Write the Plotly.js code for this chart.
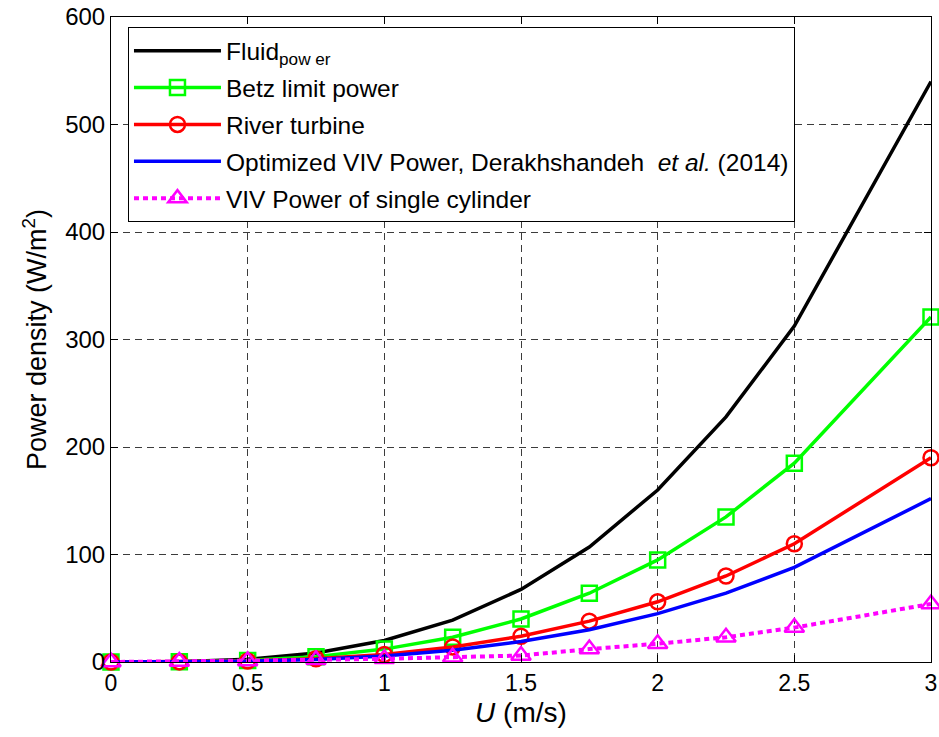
<!DOCTYPE html>
<html>
<head>
<meta charset="utf-8">
<script src="https://cdn.plot.ly/plotly-3.0.1.min.js"></script>
<style>html,body{margin:0;padding:0;background:#fff;}#chart{width:939px;height:737px;}</style>
</head>
<body>
<div id="chart"></div>
<script>
// Flow speed U (m/s)
const speeds = [0, 0.25, 0.5, 0.75, 1, 1.25, 1.5, 1.75, 2, 2.25, 2.5, 3];
// Power density (W/m^2)
const fluidPower   = [0, 0.3, 2.5, 8.4, 20, 39, 67.5, 107, 160, 228, 312.5, 540];
const betzPower    = [0, 0.2, 1.5, 5, 12, 23, 40, 64, 95, 135, 185, 321];
const riverTurbine = [0, 0.1, 0.9, 3, 7, 14, 24, 38, 56, 80, 110, 190];
const optimizedVIV = [0, 0.1, 0.7, 2.4, 5.6, 11, 19, 30, 45, 64, 88, 152];
const singleCylVIV = [0, 0.5, 1, 2, 3, 4.5, 6, 12, 17, 23, 32, 54];

const seriesNames = [
  "Fluid<sub>pow er</sub>",
  "Betz limit power",
  "River turbine",
  "Optimized VIV Power, Derakhshandeh  <i>et al.</i> (2014)",
  "VIV Power of single cylinder"
];

const traces = [
  {x: speeds, y: fluidPower, name: seriesNames[0], mode: "lines", cliponaxis: false,
   line: {color: "#000000", width: 3.5}, legendgroup: "a"},
  {x: speeds, y: betzPower, name: seriesNames[1], mode: "lines+markers", cliponaxis: false,
   line: {color: "#00ff00", width: 3.5},
   marker: {symbol: "square-open", size: 15, color: "#00ff00", line: {width: 2.5, color: "#00ff00"}}, legendgroup: "b"},
  {x: speeds, y: riverTurbine, name: seriesNames[2], mode: "lines+markers", cliponaxis: false,
   line: {color: "#ff0000", width: 3.5},
   marker: {symbol: "circle-open", size: 15, color: "#ff0000", line: {width: 2.5, color: "#ff0000"}}, legendgroup: "c"},
  {x: speeds, y: optimizedVIV, name: seriesNames[3], mode: "lines", cliponaxis: false,
   line: {color: "#0000ff", width: 3.5}, legendgroup: "d"},
  {x: speeds, y: singleCylVIV, name: seriesNames[4], mode: "lines+markers", cliponaxis: false,
   line: {color: "#ff00ff", width: 4, dash: "5px,4px"},
   marker: {symbol: "triangle-up-open", size: 17, color: "#ff00ff", line: {width: 2.5, color: "#ff00ff"}}, legendgroup: "e"}
];

const fontFam = "Arial, 'Liberation Sans', sans-serif";

const layout = {
  width: 939, height: 737,
  margin: {l: 111, r: 8, t: 17, b: 75},
  paper_bgcolor: "#ffffff", plot_bgcolor: "#ffffff",
  font: {family: fontFam, color: "#000000", size: 23},
  showlegend: true,
  legend: {
    x: 0.0207, y: 0.984, xanchor: "left", yanchor: "top",
    bgcolor: "#ffffff", bordercolor: "#000000", borderwidth: 1,
    font: {family: fontFam, size: 24.5, color: "#000000"},
    traceorder: "grouped", tracegroupgap: 2, itemwidth: 87
  },
  xaxis: {
    range: [0, 3], tickvals: [0, 0.5, 1, 1.5, 2, 2.5, 3],
    ticktext: ["0", "0.5", "1", "1.5", "2", "2.5", "3"],
    showline: true, mirror: "ticks", linecolor: "#000000", linewidth: 1,
    ticks: "inside", ticklen: 7, tickcolor: "#000000",
    showgrid: true, gridcolor: "#3c3c3c", griddash: "7px,5px", gridwidth: 1,
    zeroline: false,
    tickfont: {size: 23},
    title: {text: "<i>U</i> (m/s)", font: {size: 28}, standoff: 7}
  },
  yaxis: {
    range: [0, 600], tickvals: [0, 100, 200, 300, 400, 500, 600],
    showline: true, mirror: "ticks", linecolor: "#000000", linewidth: 1,
    ticks: "inside", ticklen: 7, tickcolor: "#000000",
    showgrid: true, gridcolor: "#3c3c3c", griddash: "7px,5px", gridwidth: 1,
    zeroline: false,
    tickfont: {size: 24},
    title: {text: "Power density (W/m<sup>2</sup>)", font: {size: 27}, standoff: 10}
  }
};

Plotly.newPlot("chart", traces, layout, {displayModeBar: false, staticPlot: true});
</script>
</body>
</html>
